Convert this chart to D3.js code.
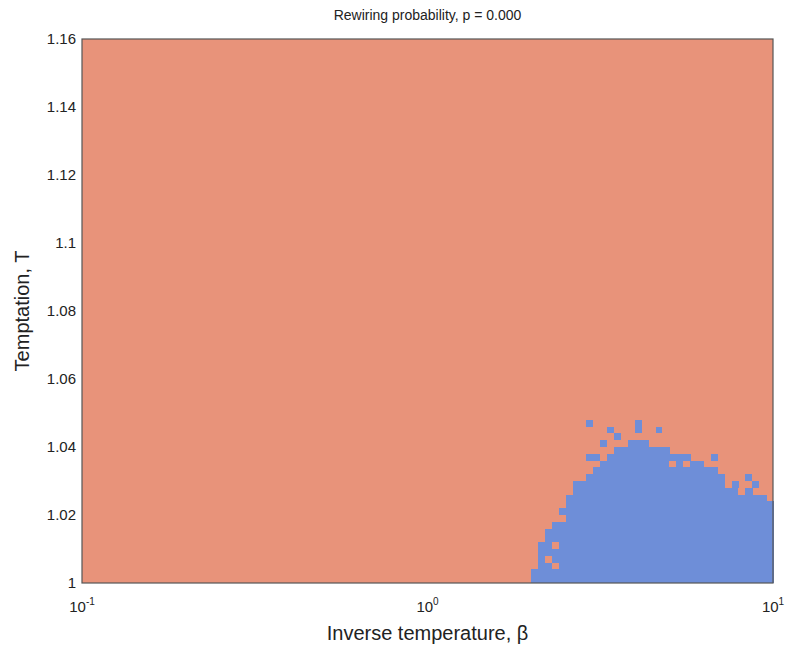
<!DOCTYPE html>
<html>
<head>
<meta charset="utf-8">
<script src="https://cdn.jsdelivr.net/npm/d3@7"></script>
<style>
  html, body { margin: 0; padding: 0; background: #fff; }
  svg text { font-family: "Liberation Sans", Arial, Helvetica, sans-serif; fill: #222; }
</style>
</head>
<body>
<svg id="chart" width="788" height="650"></svg>
<script>
// Phase diagram: cooperation (blue) vs defection (orange) over the (beta, T) grid.
const titleText = "Rewiring probability, p = 0.000";
const xLabel = "Inverse temperature, \u03B2";
const yLabel = "Temptation, T";

const betaDomain = [0.1, 10];
const tDomain = [1, 1.16];
const yTicks = [1, 1.02, 1.04, 1.06, 1.08, 1.1, 1.12, 1.14, 1.16];
const xTickExps = [-1, 0, 1];

// Grid resolution: 100 log-spaced beta columns, T step 0.002
const betaCols = 100;
const tStep = 0.002;

// Upper edge of the cooperative region (T) for columns 65..99
const coopStartCol = 65;
const coopTopT = [
  1.004, 1.012, 1.016, 1.018, 1.022, 1.026, 1.028, 1.030, 1.032, 1.034,
  1.036, 1.038, 1.040, 1.040, 1.042, 1.042, 1.042, 1.040, 1.040, 1.040,
  1.038, 1.038, 1.038, 1.036, 1.036, 1.034, 1.034, 1.032, 1.030, 1.030,
  1.028, 1.028, 1.026, 1.026, 1.024
];

// Isolated cooperative cells above the edge: [column, row]
const coopIslands = [
  [73, 23], [73, 18], [74, 18], [75, 20], [76, 22], [77, 21],
  [80, 22], [80, 23], [83, 22], [71, 14], [91, 18], [96, 15], [97, 14]
];
// Isolated defecting cells inside the cooperative region: [column, row]
const defectHoles = [
  [67, 3], [68, 5], [68, 2], [69, 9], [85, 17], [87, 17], [93, 14], [95, 13]
];

const orange = "#E8937A";
const blue = "#6E8ED8";

const margin = { left: 82, top: 39, right: 773, bottom: 583 };

const svg = d3.select("#chart");
const x = d3.scaleLog().domain(betaDomain).range([margin.left, margin.right]);
const y = d3.scaleLinear().domain(tDomain).range([margin.bottom, margin.top]);

const lx0 = Math.log10(betaDomain[0]);
const lx1 = Math.log10(betaDomain[1]);
const colEdge = i => Math.pow(10, lx0 + (lx1 - lx0) * i / betaCols);
const rowEdge = j => tDomain[0] + j * tStep;

const plot = svg.append("g").attr("shape-rendering", "crispEdges");

// Background: defection everywhere
plot.append("rect")
  .attr("x", x(betaDomain[0])).attr("y", y(tDomain[1]))
  .attr("width", x(betaDomain[1]) - x(betaDomain[0]))
  .attr("height", y(tDomain[0]) - y(tDomain[1]))
  .attr("fill", orange);

// Cooperative columns
plot.selectAll("rect.coop")
  .data(coopTopT.map((t, k) => ({ col: coopStartCol + k, t })))
  .join("rect")
  .attr("class", "coop")
  .attr("x", d => x(colEdge(d.col)))
  .attr("width", d => x(colEdge(d.col + 1)) - x(colEdge(d.col)) + 0.5)
  .attr("y", d => y(d.t))
  .attr("height", d => y(tDomain[0]) - y(d.t))
  .attr("fill", blue);

function cells(data, color, cls) {
  plot.selectAll("rect." + cls)
    .data(data)
    .join("rect")
    .attr("class", cls)
    .attr("x", d => x(colEdge(d[0])))
    .attr("width", d => x(colEdge(d[0] + 1)) - x(colEdge(d[0])))
    .attr("y", d => y(rowEdge(d[1] + 1)))
    .attr("height", d => y(rowEdge(d[1])) - y(rowEdge(d[1] + 1)))
    .attr("fill", color);
}
cells(coopIslands, blue, "island");
cells(defectHoles, orange, "hole");

// Frame
svg.append("rect")
  .attr("x", margin.left).attr("y", margin.top)
  .attr("width", margin.right - margin.left)
  .attr("height", margin.bottom - margin.top)
  .attr("fill", "none").attr("stroke", "#555").attr("stroke-width", 1.2);

// Y axis
const yAxis = svg.append("g")
  .attr("transform", `translate(${margin.left},0)`)
  .call(d3.axisLeft(y).tickValues(yTicks).tickSize(0).tickPadding(6)
    .tickFormat(d => d3.format("")(+d.toFixed(2))));
yAxis.select(".domain").remove();
yAxis.selectAll("text").attr("font-size", 15).style("font-family", "Liberation Sans, Arial, sans-serif").attr("fill", "#222");

// X axis (powers of ten)
const xt = svg.append("g");
xTickExps.forEach(e => {
  const t = xt.append("text")
    .attr("x", x(Math.pow(10, e)))
    .attr("y", 612)
    .attr("text-anchor", "middle")
    .attr("font-size", 15);
  t.append("tspan").text("10");
  t.append("tspan").attr("font-size", 10).attr("dy", -7).text(String(e));
});

// Labels
svg.append("text")
  .attr("x", (margin.left + margin.right) / 2).attr("y", 640)
  .attr("text-anchor", "middle").attr("font-size", 20)
  .text(xLabel);

svg.append("text")
  .attr("transform", `translate(29,${(margin.top + margin.bottom) / 2}) rotate(-90)`)
  .attr("text-anchor", "middle").attr("font-size", 20)
  .text(yLabel);

svg.append("text")
  .attr("x", (margin.left + margin.right) / 2).attr("y", 20)
  .attr("text-anchor", "middle").attr("font-size", 14)
  .text(titleText);
</script>
</body>
</html>
